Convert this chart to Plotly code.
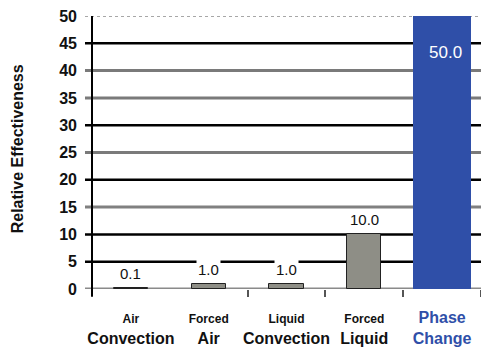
import plotly.graph_objects as go

categories = ["Air Convection", "Forced Air", "Liquid Convection", "Forced Liquid", "Phase Change"]
line1 = ["Air", "Forced", "Liquid", "Forced", "Phase"]
line2 = ["Convection", "Air", "Convection", "Liquid", "Change"]
values = [0.1, 1.0, 1.0, 10.0, 50.0]
labels = ["0.1", "1.0", "1.0", "10.0", "50.0"]
y_ticks = [0, 5, 10, 15, 20, 25, 30, 35, 40, 45, 50]

# styles
GRAY_BAR = "#8e8e86"
BLUE = "#2f4fa8"
grid_styles = {0: ("#8a8a8a", 3, "solid"), 5: ("#000000", 2.5, "solid"), 10: ("#000000", 2.5, "solid"),
               15: ("#808080", 3, "solid"), 20: ("#000000", 2.5, "solid"), 25: ("#7a7a7a", 3, "solid"),
               30: ("#000000", 2.5, "solid"), 35: ("#7a7a7a", 3, "solid"), 40: ("#7a7a7a", 3, "solid"),
               45: ("#000000", 2.5, "solid"), 50: ("#8a8a8a", 1.5, "dot")}

xs = list(range(len(categories)))
colors = [BLUE if c == "Phase Change" else GRAY_BAR for c in categories]
widths = [0.75 if c == "Phase Change" else 0.44 for c in categories]
line_w = [0 if c == "Phase Change" else 1 for c in categories]

fig = go.Figure()
fig.add_trace(go.Bar(
    x=xs, y=values, width=widths,
    marker=dict(color=colors, line=dict(color="#222222", width=line_w)),
    hoverinfo="skip",
))

ticktext = []
for a, b, c in zip(line1, line2, categories):
    if c == "Phase Change":
        ticktext.append(f"<span style='color:{BLUE}'>{a}<br>{b}</span>")
    else:
        ticktext.append(f"<span style='font-size:12px'>{a}</span><br>{b}")

shapes = []
for t in y_ticks:
    col, w, dash = grid_styles[t]
    shapes.append(dict(type="line", xref="paper", yref="y", x0=-0.018, x1=1, y0=t, y1=t,
                       line=dict(color=col, width=w, dash=dash), layer="below"))
# y axis line
shapes.append(dict(type="line", xref="paper", yref="paper", x0=0, x1=0, y0=-0.028, y1=1,
                   line=dict(color="#000000", width=2), layer="below"))

annotations = []
for x, v, lab, c in zip(xs, values, labels, categories):
    if c == "Phase Change":
        annotations.append(dict(x=x + 0.05, y=v, xref="x", yref="y", text=lab, showarrow=False,
                                yanchor="top", yshift=-25,
                                font=dict(family="Liberation Sans, Arial", size=17, color="white")))
    else:
        annotations.append(dict(x=x, y=v, xref="x", yref="y", text=lab, showarrow=False,
                                yanchor="bottom", yshift=4, bgcolor="white", borderpad=1,
                                font=dict(family="Liberation Sans, Arial", size=15, color="#111111")))
annotations.append(dict(x=-0.193, y=0.515, xref="paper", yref="paper", text="<b>Relative Effectiveness</b>",
                        textangle=-90, showarrow=False, xanchor="center", yanchor="middle",
                        font=dict(family="Liberation Sans, Arial", size=16, color="#111111")))

fig.update_layout(
    width=481, height=350,
    margin=dict(l=92, r=0, t=16, b=61, autoexpand=False),
    paper_bgcolor="white", plot_bgcolor="white",
    showlegend=False,
    bargap=0,
    shapes=shapes,
    annotations=annotations,
    font=dict(family="Liberation Sans, Arial", color="#111111"),
    xaxis=dict(range=[-0.5, 4.5], tickvals=xs, ticktext=ticktext, ticks="", automargin=False,
               tickfont=dict(size=16, family="Liberation Sans, Arial", weight="bold"),
               showgrid=False, zeroline=False, showline=False, ticklabelstandoff=17,
               minor=dict(tickvals=[1.5, 2.5, 3.5, 4.5], ticks="outside", ticklen=7,
                          tickcolor="#555555", tickwidth=1.5)),
    yaxis=dict(range=[0, 50], tickvals=y_ticks, ticks="", showgrid=False, zeroline=False,
               showline=False, ticklabelstandoff=14, automargin=False,
               tickfont=dict(size=16, family="Liberation Sans, Arial", weight="bold")),
)

fig.write_html("out.html", config={"displayModeBar": False},
               post_script="document.body.style.margin='0';document.body.style.overflow='hidden';")
